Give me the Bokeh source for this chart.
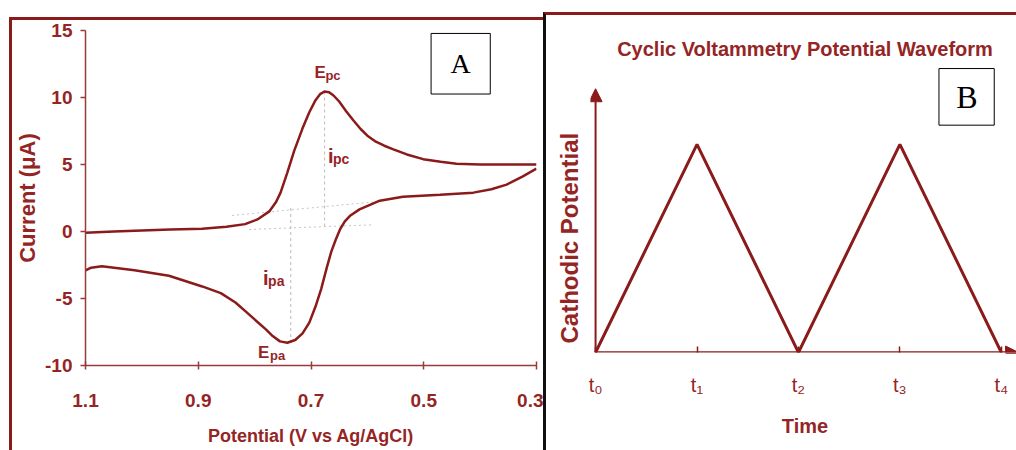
from bokeh.plotting import figure
from bokeh.layouts import row, column
from bokeh.models import Range1d, FixedTicker, Label, BoxAnnotation, Arrow, NormalHead, Title
from bokeh.embed import file_html
from bokeh.resources import INLINE

# ---- Cyclic voltammogram (current vs potential) ----
# forward sweep, 1.1 V -> 0.3 V
fwd_potential = [1.100, 1.050, 0.950, 0.893, 0.850, 0.817, 0.795, 0.774, 0.762, 0.754,
                 0.742, 0.730, 0.715, 0.703, 0.692, 0.684, 0.676, 0.668, 0.660, 0.650,
                 0.638, 0.625, 0.612, 0.600, 0.585, 0.570, 0.555, 0.530, 0.501, 0.470,
                 0.442, 0.400, 0.350, 0.300]
fwd_current = [-0.1, 0.0, 0.15, 0.2, 0.35, 0.55, 0.9, 1.5, 2.2, 2.9,
               4.4, 6.0, 7.7, 8.9, 9.8, 10.25, 10.45, 10.4, 10.15, 9.7,
               9.0, 8.3, 7.65, 7.15, 6.7, 6.4, 6.15, 5.75, 5.4, 5.2,
               5.05, 5.0, 5.0, 5.0]
# reverse sweep, 0.3 V -> 1.1 V
rev_potential = [0.300, 0.325, 0.353, 0.380, 0.412, 0.471, 0.537, 0.578, 0.614, 0.630,
                 0.640, 0.648, 0.656, 0.664, 0.672, 0.682, 0.692, 0.703, 0.715, 0.728,
                 0.742, 0.755, 0.768, 0.780, 0.799, 0.815, 0.834, 0.860, 0.893, 0.952,
                 1.013, 1.071, 1.090, 1.100]
rev_current = [4.7, 4.1, 3.5, 3.15, 2.9, 2.75, 2.6, 2.3, 1.65, 1.2,
               0.75, 0.2, -0.6, -1.5, -2.7, -4.3, -5.6, -6.8, -7.6, -8.1,
               -8.3, -8.2, -7.8, -7.3, -6.6, -6.0, -5.3, -4.6, -4.1, -3.3,
               -2.9, -2.6, -2.7, -2.9]

# peak positions (potential, current)
cathodic_peak = (0.676, 10.45)
anodic_peak = (0.742, -8.3)

# extrapolated baselines used to measure the peak currents
cath_base_v = [0.84, 0.59]
cath_base_i = [1.2, 2.2]
anod_base_v = [0.81, 0.59]
anod_base_i = [0.15, 0.5]

cv_x_ticks = [1.1, 0.9, 0.7, 0.5, 0.3]
cv_y_ticks = [15, 10, 5, 0, -5, -10]
cv_y_labels = {15: "15", 10: "10", 5: "5", 0: "0", -5: "-5", -10: "-10"}

# ---- Triangular potential waveform ----
wave_time = [0, 1, 2, 3, 4]
wave_potential = [0, 1, 0, 1, 0]
time_labels = ["t₀", "t₁", "t₂", "t₃", "t₄"]

CURVE = "#8b1a1a"
TEXT = "#952525"
AXIS = "#9a3b3b"
GUIDE = "#c4c4c4"
SANS = "'Liberation Sans', Arial, sans-serif"
SERIF = "'Liberation Serif', 'Times New Roman', serif"

# ================= Panel A =================
pA = figure(width=534, height=433, title=None,
            x_range=Range1d(1.1, 0.3), y_range=Range1d(-10, 15),
            output_backend="svg", toolbar_location=None,
            min_border_left=72, min_border_right=10,
            min_border_top=10, min_border_bottom=88,
            margin=(17, 0, 0, 9),
            styles={"border-top": "3px solid #8b1a1a", "border-left": "3px solid #8b1a1a"})
pA.outline_line_color = None
pA.grid.visible = False
pA.background_fill_color = "white"
pA.border_fill_color = "white"

pA.xaxis.ticker = FixedTicker(ticks=cv_x_ticks)
pA.yaxis.ticker = FixedTicker(ticks=cv_y_ticks)
pA.yaxis.major_label_overrides = cv_y_labels
pA.xaxis.axis_label = "Potential (V vs Ag/AgCl)"
pA.yaxis.axis_label = "Current (μA)"
for ax in (pA.xaxis[0], pA.yaxis[0]):
    ax.axis_line_color = AXIS
    ax.axis_line_width = 1.5
    ax.major_tick_line_color = AXIS
    ax.major_tick_line_width = 1.5
    ax.minor_tick_line_color = None
    ax.major_label_text_color = TEXT
    ax.major_label_text_font = SANS
    ax.major_label_text_font_style = "bold"
    ax.major_label_text_font_size = "19px"
    ax.axis_label_text_color = TEXT
    ax.axis_label_text_font = SANS
    ax.axis_label_text_font_style = "bold"
pA.xaxis.major_tick_in = 4
pA.xaxis.major_tick_out = 4
pA.xaxis.major_label_standoff = 24
pA.xaxis.axis_label_text_font_size = "18px"
pA.xaxis.axis_label_standoff = 16
pA.yaxis.major_tick_in = 0
pA.yaxis.major_tick_out = 5
pA.yaxis.major_label_standoff = 8
pA.yaxis.axis_label_text_font_size = "22px"
pA.yaxis.axis_label_standoff = 2

# guide lines for peak currents
pA.line(cath_base_v, cath_base_i, line_color=GUIDE, line_width=1, line_dash="2 3")
pA.line(anod_base_v, anod_base_i, line_color=GUIDE, line_width=1, line_dash="2 3")
pA.line([cathodic_peak[0], cathodic_peak[0]], [cathodic_peak[1], 0.2],
        line_color=GUIDE, line_width=1.2, line_dash="3 3")
pA.line([anodic_peak[0] - 0.006, anodic_peak[0] - 0.006], [1.75, anodic_peak[1]],
        line_color=GUIDE, line_width=1.2, line_dash="3 3")

# voltammogram
pA.line(fwd_potential, fwd_current, line_color=CURVE, line_width=2.5)
pA.line(rev_potential, rev_current, line_color=CURVE, line_width=2.5)


def sub_label(fig, x, y, main, sub, main_size, sub_size, dx, dy):
    fig.add_layout(Label(x=x, y=y, text=main, text_color=TEXT, text_font=SANS,
                         text_font_style="bold", text_font_size=main_size,
                         text_align="left", text_baseline="alphabetic"))
    fig.add_layout(Label(x=x, y=y, x_offset=dx, y_offset=dy, text=sub, text_color=TEXT,
                         text_font=SANS, text_font_style="bold", text_font_size=sub_size,
                         text_align="left", text_baseline="alphabetic"))


sub_label(pA, cathodic_peak[0] + 0.018, cathodic_peak[1] + 1.45, "E", "pc", "17px", "13px", 11, -3)
sub_label(pA, cathodic_peak[0] - 0.006, cathodic_peak[1] - 4.8, "i", "pc", "20px", "14px", 5, -3)
sub_label(pA, anodic_peak[0] + 0.043, anodic_peak[1] + 4.85, "i", "pa", "20px", "14px", 5, -3)
sub_label(pA, anodic_peak[0] + 0.052, anodic_peak[1] - 0.75, "E", "pa", "17px", "13px", 12, -3)

pA.add_layout(BoxAnnotation(left=0.382, right=0.487, bottom=10.26, top=14.78,
                            fill_color="white", fill_alpha=1.0,
                            line_color="black", line_width=1, line_alpha=1.0))
pA.add_layout(Label(x=0.4345, y=12.52, text="A", text_color="black", text_font=SERIF,
                    text_font_size="28px", text_align="center", text_baseline="middle"))

# ================= Panel B =================
pB = figure(width=473, height=438,
            x_range=Range1d(-0.05, 4.179), y_range=Range1d(0, 1.393),
            output_backend="svg", toolbar_location=None,
            min_border_left=44, min_border_right=0,
            min_border_top=47, min_border_bottom=101,
            margin=(12, 0, 0, 0),
            styles={"border-top": "3px solid #8b1a1a", "border-left": "3px solid #111111"})
pB.outline_line_color = None
pB.grid.visible = False
pB.background_fill_color = "white"
pB.border_fill_color = "white"

pB.title.text = "Cyclic Voltammetry Potential Waveform"
pB.title.align = "center"
pB.title.text_color = TEXT
pB.title.text_font = SANS
pB.title.text_font_style = "bold"
pB.title.text_font_size = "20px"
pB.title.standoff = 6

pB.yaxis.visible = False
pB.add_layout(Title(text="Cathodic Potential", align="left", offset=9, standoff=15,
                    text_color=TEXT, text_font=SANS, text_font_style="bold",
                    text_font_size="24px"), "left")

xb = pB.xaxis[0]
xb.ticker = FixedTicker(ticks=wave_time)
xb.major_label_overrides = {t: lab for t, lab in zip(wave_time, time_labels)}
xb.axis_line_color = None
xb.major_tick_in = 6
xb.major_tick_out = 0
xb.major_tick_line_color = CURVE
xb.major_tick_line_width = 1.5
xb.minor_tick_line_color = None
xb.major_label_text_color = TEXT
xb.major_label_text_font = SANS
xb.major_label_text_font_size = "20px"
xb.major_label_standoff = 21
xb.axis_label = "Time"
xb.axis_label_text_color = TEXT
xb.axis_label_text_font = SANS
xb.axis_label_text_font_style = "bold"
xb.axis_label_text_font_size = "20px"
xb.axis_label_standoff = 16

# axes drawn as arrows
pB.add_layout(Arrow(end=NormalHead(size=13, fill_color=CURVE, line_color=CURVE),
                    x_start=0, y_start=0, x_end=4.17, y_end=0,
                    line_color=CURVE, line_width=2.5))
pB.add_layout(Arrow(end=NormalHead(size=13, fill_color=CURVE, line_color=CURVE),
                    x_start=0, y_start=0, x_end=0, y_end=1.267,
                    line_color=CURVE, line_width=2))

pB.line(wave_time, wave_potential, line_color=CURVE, line_width=3)

pB.add_layout(BoxAnnotation(left=3.385, right=3.930, bottom=1.092, top=1.364,
                            fill_color="white", fill_alpha=1.0,
                            line_color="black", line_width=1, line_alpha=1.0))
pB.add_layout(Label(x=3.66, y=1.228, text="B", text_color="black", text_font=SERIF,
                    text_font_size="32px", text_align="center", text_baseline="middle"))

# each panel wrapped on its own so the two frames are sized independently
layout = row(column(pA), column(pB))
open("out.html", "w").write(file_html(layout, INLINE))
